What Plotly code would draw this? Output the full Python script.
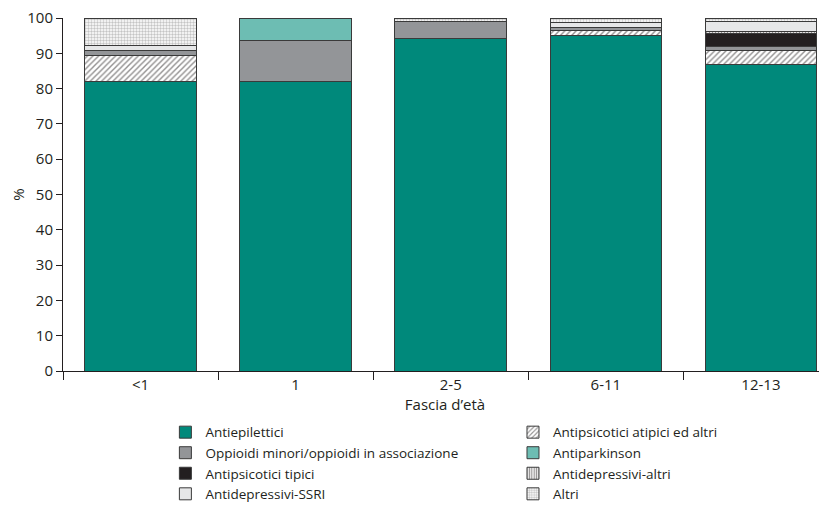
import plotly.graph_objects as go

categories = ["<1", "1", "2-5", "6-11", "12-13"]
antiepilettici = [82.0, 82.0, 94.3, 95.0, 86.7]
antipsicotici_atipici = [7.5, 0, 0, 1.5, 4.2]
oppioidi = [1.4, 11.5, 4.7, 0.8, 1.0]
antiparkinson = [0, 6.5, 0, 0, 0]
antipsicotici_tipici = [0, 0, 0, 0, 3.8]
antidepressivi_altri = [0, 0, 0, 0, 0.4]
antidepressivi_ssri = [1.4, 0, 0, 1.4, 2.9]
altri = [7.7, 0, 1.0, 1.3, 1.0]

# (name, values, marker, legend column)
series = [
    ("Antiepilettici", antiepilettici, dict(color="#00897B"), "legend"),
    ("Antipsicotici atipici ed altri", antipsicotici_atipici,
     dict(color="white", pattern=dict(shape="/", fgcolor="#231F20", bgcolor="white", size=4, solidity=0.35)), "legend2"),
    ("Oppioidi minori/oppioidi in associazione", oppioidi, dict(color="#939598"), "legend"),
    ("Antiparkinson", antiparkinson, dict(color="#6DBDB3"), "legend2"),
    ("Antipsicotici tipici", antipsicotici_tipici, dict(color="#231F20"), "legend"),
    ("Antidepressivi-altri", antidepressivi_altri,
     dict(color="white", pattern=dict(shape="|", fgcolor="#231F20", bgcolor="white", size=3, solidity=0.5)), "legend2"),
    ("Antidepressivi-SSRI", antidepressivi_ssri, dict(color="#E6E7E8"), "legend"),
    ("Altri", altri,
     dict(color="white", pattern=dict(shape=".", fgcolor="#8A8A8A", bgcolor="white", size=3, solidity=0.5)), "legend2"),
]

fig = go.Figure()
for name, vals, mk, lg in series:
    mk = dict(mk)
    mk["line"] = dict(color="#3a3a3a", width=1)
    fig.add_trace(go.Bar(name=name, x=categories, y=vals, marker=mk, width=0.72, legend=lg))

font_family = "Open Sans, Liberation Sans, sans-serif"
legend_common = dict(
    orientation="v", yanchor="top", y=-0.130, xanchor="left",
    font=dict(size=13.5, color="#231F20"), traceorder="normal",
    itemwidth=30, bgcolor="rgba(0,0,0,0)", tracegroupgap=0,
)
fig.update_layout(
    barmode="stack",
    width=827, height=516,
    margin=dict(l=55, r=8, t=10, b=153, autoexpand=False),
    plot_bgcolor="white", paper_bgcolor="white",
    font=dict(family=font_family, size=15, color="#231F20"),
    xaxis=dict(
        range=[-0.5, 4.426], tickson="boundaries", ticks="outside", ticklen=8,
        tickcolor="#231F20", showline=True, linecolor="#231F20", linewidth=1,
        showgrid=False, automargin=False, ticklabeloverflow="allow",
        title=dict(text="Fascia d’età", standoff=4, font=dict(size=15)),
        tickfont=dict(size=15),
    ),
    yaxis=dict(
        range=[0, 100], dtick=10, ticks="outside", ticklen=6, tickcolor="#231F20",
        showline=True, linecolor="#231F20", linewidth=1, showgrid=False,
        zeroline=False, automargin=False, ticklabeloverflow="allow",
        title=dict(text="%", standoff=6, font=dict(size=15)), tickfont=dict(size=15),
    ),
    legend=dict(legend_common, x=0.134),
    legend2=dict(legend_common, x=0.589),
    showlegend=True,
)

fig.write_html("out.html")
